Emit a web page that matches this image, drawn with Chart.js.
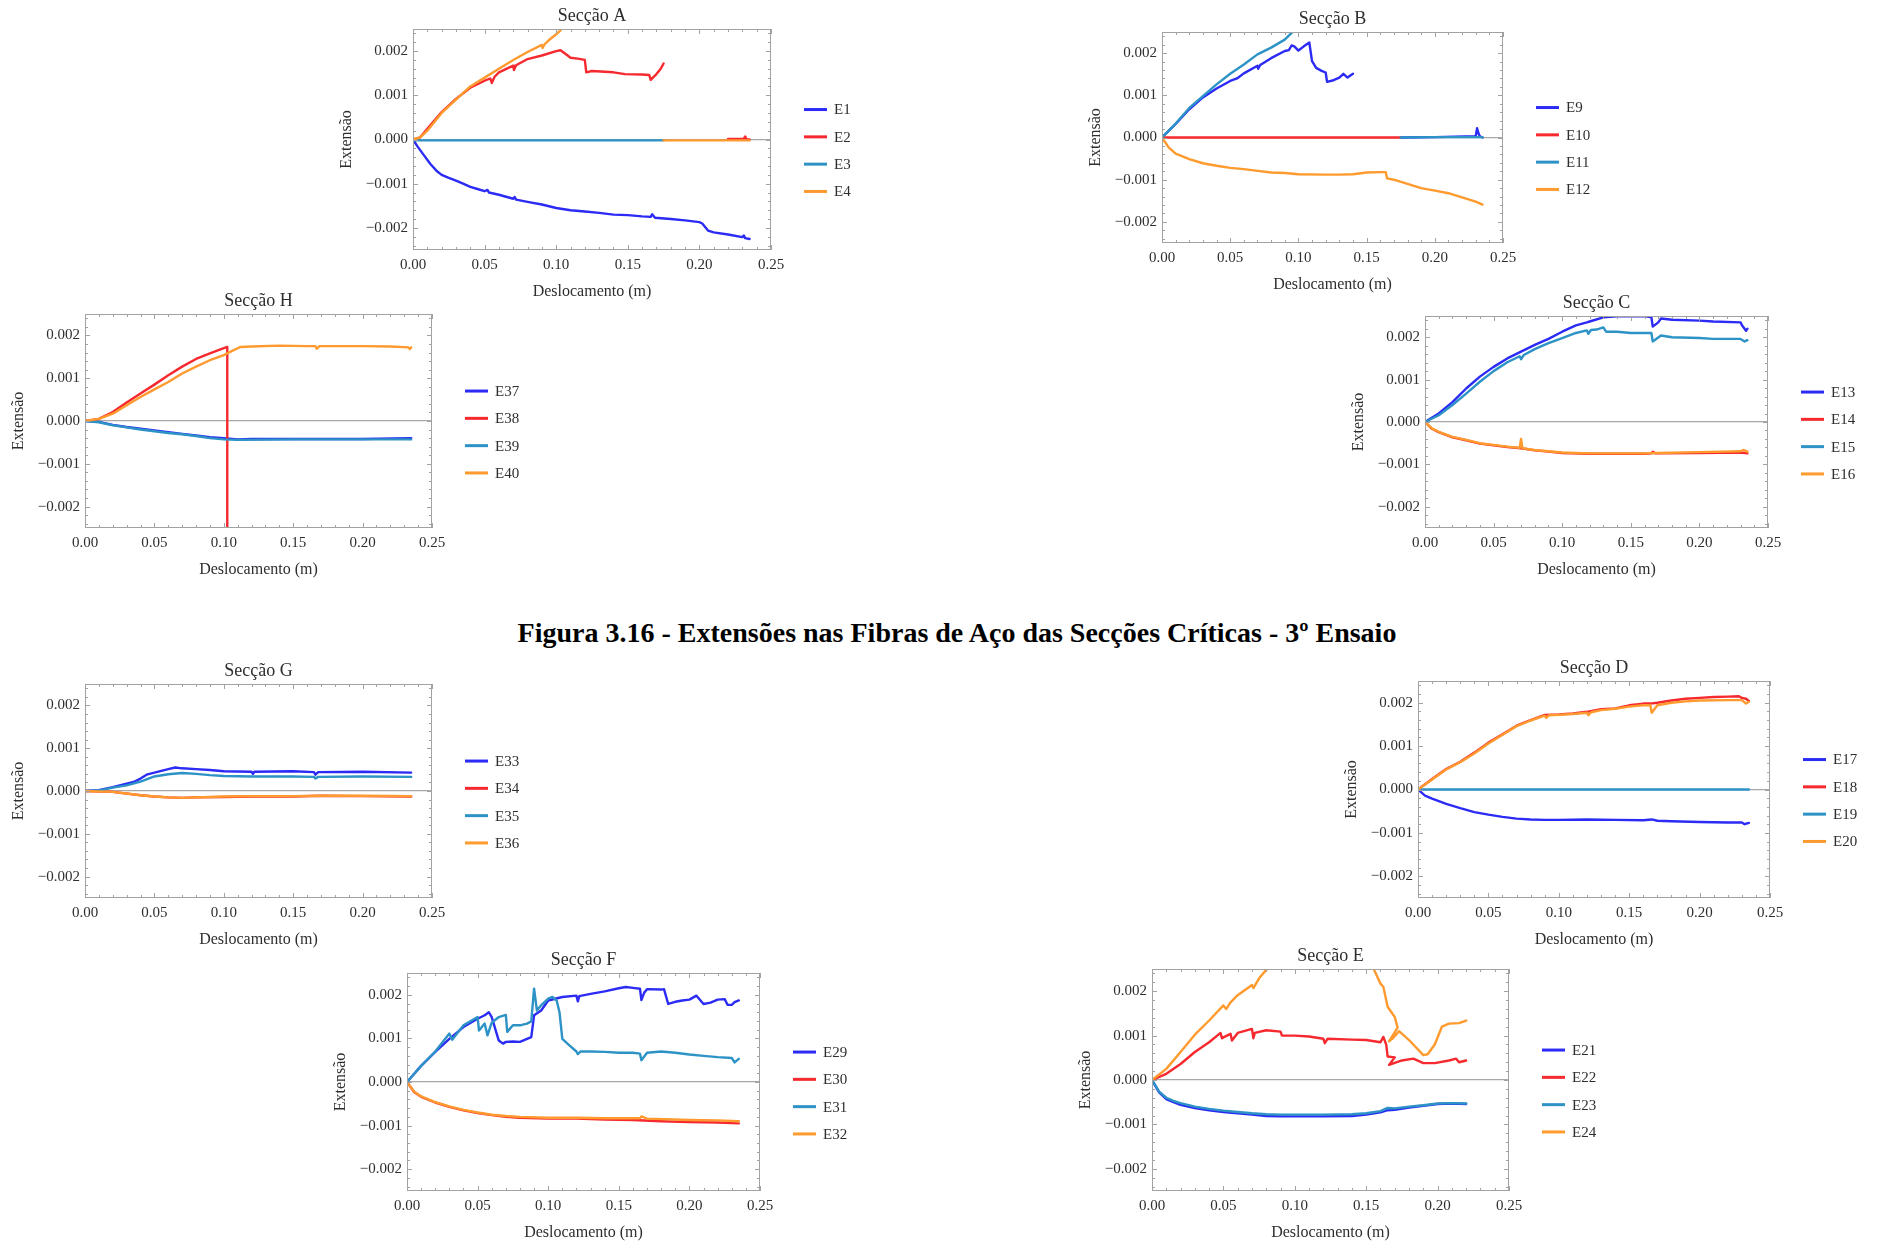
<!DOCTYPE html>
<html><head><meta charset="utf-8">
<script src="https://cdn.jsdelivr.net/npm/chart.js@4.4.1/dist/chart.umd.min.js"></script>
<style>
html,body{margin:0;padding:0;background:#fff;}
body{width:1879px;height:1245px;position:relative;overflow:hidden;}
canvas{position:absolute;}
#cap{position:absolute;top:617px;left:957px;transform:translateX(-50%);white-space:nowrap;font:bold 28px "Liberation Serif",serif;line-height:32px;color:#000;}
</style></head><body>
<div id="cap">Figura 3.16 - Extensões nas Fibras de Aço das Secções Críticas - 3º Ensaio</div>
<script>
// ---------- axis ticks / labels ----------
const X_TICKS=[0,0.05,0.1,0.15,0.2,0.25];
const X_TICK_LABELS=['0.00','0.05','0.10','0.15','0.20','0.25'];
const Y_TICKS=[-0.002,-0.001,0,0.001,0.002];
const Y_TICK_LABELS=['\u22120.002','\u22120.001','0.000','0.001','0.002'];
const X_TITLE='Deslocamento (m)';
const Y_TITLE='Extensão';
const COLORS=['#2b2bf5','#f5292e','#2d93c6','#ff9a2e'];

// ---------- Secção A ----------
const E1=[[0,0],[0.003,-0.00015],[0.0068,-0.00032],[0.012,-0.00055],[0.0168,-0.00072],[0.02,-0.0008],[0.025,-0.00087],[0.03,-0.00093],[0.035,-0.001],[0.04,-0.00107],[0.045,-0.00112],[0.05,-0.00117],[0.052,-0.00114],[0.053,-0.0012],[0.06,-0.00125],[0.07,-0.00134],[0.071,-0.0013],[0.072,-0.00136],[0.08,-0.00141],[0.09,-0.00147],[0.1,-0.00155],[0.11,-0.0016],[0.12,-0.00163],[0.13,-0.00166],[0.14,-0.0017],[0.15,-0.00171],[0.16,-0.00174],[0.166,-0.00175],[0.167,-0.00169],[0.169,-0.00177],[0.18,-0.0018],[0.19,-0.00183],[0.2,-0.00187],[0.202,-0.0019],[0.204,-0.00198],[0.206,-0.00206],[0.21,-0.0021],[0.22,-0.00215],[0.23,-0.00221],[0.231,-0.00217],[0.232,-0.00223],[0.235,-0.00225]];
const E2=[[0,0],[0.005,0.00005],[0.01,0.00024],[0.02,0.00062],[0.03,0.00092],[0.04,0.00117],[0.05,0.00133],[0.054,0.00138],[0.055,0.00128],[0.057,0.00142],[0.06,0.00152],[0.07,0.00167],[0.0705,0.00157],[0.072,0.00168],[0.08,0.00182],[0.09,0.0019],[0.1,0.002],[0.103,0.00202],[0.108,0.0019],[0.11,0.00185],[0.115,0.00183],[0.12,0.0018],[0.121,0.00152],[0.125,0.00155],[0.14,0.00152],[0.148,0.00148],[0.16,0.00147],[0.165,0.00146],[0.166,0.00135],[0.17,0.00148],[0.173,0.0016],[0.175,0.00172],[0.2,null],[0.22,0.00001],[0.231,0.00002],[0.232,0.00007],[0.233,0],[0.235,0]];
const E3=[[0,-0.00002],[0.05,-0.00002],[0.1,-0.00002],[0.15,-0.00002],[0.175,-0.00002]];
const E4=[[0,0],[0.005,0.00005],[0.01,0.0002],[0.02,0.0006],[0.03,0.0009],[0.04,0.0012],[0.05,0.0014],[0.06,0.0016],[0.07,0.0018],[0.08,0.00198],[0.09,0.00214],[0.0905,0.00207],[0.092,0.00216],[0.095,0.00225],[0.1,0.00238],[0.103,0.00247],[0.106,0.00258],[0.14,null],[0.175,-0.00002],[0.2,-0.00002],[0.235,-0.00002]];

// ---------- Secção B ----------
const E9=[[0,0],[0.01,0.00032],[0.02,0.00067],[0.03,0.00095],[0.04,0.00116],[0.05,0.00134],[0.055,0.0014],[0.06,0.00152],[0.07,0.0017],[0.0705,0.00163],[0.072,0.00172],[0.08,0.00188],[0.09,0.00205],[0.093,0.00207],[0.095,0.00218],[0.097,0.00216],[0.1,0.00206],[0.104,0.00216],[0.108,0.00225],[0.11,0.00181],[0.113,0.00165],[0.117,0.00158],[0.12,0.00154],[0.121,0.00132],[0.125,0.00135],[0.13,0.00142],[0.133,0.00151],[0.136,0.00142],[0.14,0.00151],[0.16,null],[0.175,0],[0.2,0.00001],[0.23,0.00003],[0.231,0.00022],[0.232,0.0001],[0.233,0.00003],[0.235,0]];
const E10=[[0,0],[0.05,0],[0.1,0],[0.175,0]];
const E11=[[0,0],[0.01,0.00033],[0.02,0.0007],[0.03,0.00098],[0.04,0.00126],[0.05,0.00151],[0.06,0.00173],[0.07,0.00197],[0.08,0.00213],[0.09,0.00232],[0.095,0.00248],[0.098,0.00258],[0.13,null],[0.175,0],[0.2,0.00001],[0.235,0.00001]];
const E12=[[0,0],[0.005,-0.00024],[0.01,-0.00038],[0.02,-0.00051],[0.03,-0.00061],[0.04,-0.00067],[0.05,-0.00072],[0.06,-0.00075],[0.07,-0.00079],[0.08,-0.00083],[0.09,-0.00084],[0.1,-0.00087],[0.12,-0.00088],[0.13,-0.00088],[0.14,-0.00087],[0.15,-0.00083],[0.16,-0.00082],[0.164,-0.00082],[0.165,-0.00097],[0.17,-0.001],[0.18,-0.0011],[0.19,-0.0012],[0.2,-0.00126],[0.21,-0.00132],[0.22,-0.00142],[0.23,-0.00152],[0.235,-0.00159]];

// ---------- Secção H ----------
const E37=[[0,0],[0.01,-0.00002],[0.02,-0.00009],[0.03,-0.00014],[0.04,-0.00018],[0.05,-0.00022],[0.06,-0.00026],[0.07,-0.0003],[0.08,-0.00034],[0.09,-0.00038],[0.1,-0.0004],[0.11,-0.00043],[0.12,-0.00042],[0.15,-0.00042],[0.18,-0.00042],[0.2,-0.00042],[0.235,-0.0004]];
const E38=[[0,0],[0.01,0.00005],[0.02,0.00021],[0.03,0.00043],[0.04,0.00064],[0.05,0.00085],[0.06,0.00107],[0.07,0.00127],[0.08,0.00145],[0.09,0.00158],[0.1,0.0017],[0.1025,0.00173],[0.1025,-0.01]];
const E39=[[0,0],[0.01,-0.00003],[0.02,-0.0001],[0.03,-0.00015],[0.04,-0.0002],[0.05,-0.00024],[0.06,-0.00028],[0.07,-0.00031],[0.08,-0.00035],[0.09,-0.0004],[0.1,-0.00043],[0.11,-0.00044],[0.15,-0.00043],[0.2,-0.00043],[0.235,-0.00043]];
const E40=[[0,0],[0.01,0.00005],[0.02,0.00017],[0.03,0.00037],[0.04,0.00056],[0.05,0.00074],[0.06,0.00091],[0.07,0.00111],[0.08,0.00127],[0.09,0.00142],[0.1,0.00154],[0.105,0.00162],[0.11,0.0017],[0.112,0.00173],[0.12,0.00174],[0.14,0.00176],[0.16,0.00175],[0.166,0.00175],[0.167,0.00169],[0.169,0.00175],[0.2,0.00175],[0.22,0.00174],[0.233,0.00172],[0.234,0.00168],[0.235,0.00172]];

// ---------- Secção C ----------
const E13=[[0,0],[0.01,0.0002],[0.02,0.00047],[0.03,0.00079],[0.04,0.00107],[0.05,0.0013],[0.06,0.0015],[0.07,0.00166],[0.08,0.00182],[0.09,0.00196],[0.1,0.00213],[0.11,0.00228],[0.118,0.00235],[0.12,0.00237],[0.13,0.00247],[0.14,0.00249],[0.15,0.00249],[0.16,0.0025],[0.165,0.00247],[0.166,0.00225],[0.17,0.00235],[0.172,0.00244],[0.18,0.00241],[0.2,0.00239],[0.21,0.00237],[0.23,0.00235],[0.231,0.00228],[0.232,0.00224],[0.234,0.00215],[0.235,0.0022]];
const E14=[[0,0],[0.005,-0.00016],[0.01,-0.00024],[0.02,-0.00036],[0.03,-0.00043],[0.04,-0.00051],[0.05,-0.00055],[0.06,-0.00059],[0.07,-0.00062],[0.08,-0.00067],[0.09,-0.0007],[0.1,-0.00073],[0.12,-0.00075],[0.14,-0.00075],[0.16,-0.00075],[0.165,-0.00074],[0.166,-0.0007],[0.168,-0.00074],[0.2,-0.00073],[0.23,-0.00072],[0.235,-0.00074]];
const E15=[[0,0],[0.01,0.00016],[0.02,0.0004],[0.03,0.00067],[0.04,0.00095],[0.05,0.0012],[0.06,0.00141],[0.069,0.00155],[0.07,0.00148],[0.072,0.00158],[0.08,0.00172],[0.09,0.00186],[0.1,0.00198],[0.11,0.0021],[0.118,0.00216],[0.119,0.00208],[0.121,0.00217],[0.125,0.00218],[0.13,0.00223],[0.132,0.00213],[0.14,0.00213],[0.15,0.0021],[0.165,0.0021],[0.166,0.0019],[0.172,0.00204],[0.18,0.002],[0.2,0.00198],[0.21,0.00196],[0.23,0.00196],[0.233,0.0019],[0.235,0.00193]];
const E16=[[0,0],[0.005,-0.00015],[0.01,-0.00023],[0.02,-0.00035],[0.03,-0.00042],[0.04,-0.0005],[0.05,-0.00054],[0.06,-0.00058],[0.069,-0.00061],[0.07,-0.0004],[0.071,-0.00062],[0.08,-0.00066],[0.09,-0.00069],[0.1,-0.00072],[0.12,-0.00074],[0.14,-0.00074],[0.16,-0.00074],[0.17,-0.00073],[0.2,-0.00071],[0.23,-0.00069],[0.232,-0.00066],[0.235,-0.0007]];

// ---------- Secção G ----------
const E33=[[0,0],[0.01,0.00002],[0.02,0.00009],[0.03,0.00017],[0.035,0.00021],[0.04,0.00029],[0.045,0.00039],[0.05,0.00043],[0.06,0.00051],[0.065,0.00055],[0.07,0.00053],[0.08,0.00051],[0.09,0.00049],[0.1,0.00046],[0.12,0.00045],[0.121,0.0004],[0.122,0.00045],[0.15,0.00046],[0.165,0.00044],[0.166,0.00038],[0.168,0.00044],[0.2,0.00045],[0.235,0.00043]];
const E34=[[0,0],[0.02,-0.00002],[0.04,-0.0001],[0.05,-0.00013],[0.06,-0.00015],[0.07,-0.00016],[0.08,-0.00015],[0.1,-0.00014],[0.12,-0.00013],[0.15,-0.00013],[0.17,-0.00011],[0.2,-0.00012],[0.235,-0.00013]];
const E35=[[0,0],[0.01,0.00001],[0.02,0.00008],[0.03,0.00013],[0.04,0.00022],[0.05,0.00034],[0.06,0.00039],[0.07,0.00042],[0.08,0.0004],[0.09,0.00037],[0.1,0.00035],[0.12,0.00034],[0.15,0.00034],[0.165,0.00033],[0.166,0.00029],[0.168,0.00033],[0.2,0.00034],[0.235,0.00033]];
const E36=[[0,0],[0.02,-0.00002],[0.04,-0.0001],[0.05,-0.00013],[0.06,-0.00015],[0.07,-0.00016],[0.08,-0.00015],[0.1,-0.00013],[0.12,-0.00012],[0.15,-0.00012],[0.17,-0.00011],[0.2,-0.00011],[0.235,-0.00012]];

// ---------- Secção D ----------
const E17=[[0,0],[0.005,-0.00014],[0.01,-0.00021],[0.02,-0.00033],[0.03,-0.00043],[0.04,-0.00052],[0.05,-0.00058],[0.06,-0.00063],[0.07,-0.00067],[0.08,-0.00069],[0.09,-0.0007],[0.1,-0.0007],[0.12,-0.00069],[0.14,-0.0007],[0.16,-0.00071],[0.166,-0.00069],[0.17,-0.00072],[0.18,-0.00073],[0.2,-0.00075],[0.22,-0.00076],[0.23,-0.00076],[0.232,-0.0008],[0.235,-0.00077]];
const E18=[[0,0],[0.01,0.00024],[0.02,0.00047],[0.03,0.00064],[0.04,0.00085],[0.05,0.00108],[0.06,0.00127],[0.07,0.00147],[0.08,0.0016],[0.09,0.00172],[0.1,0.00173],[0.11,0.00175],[0.12,0.00179],[0.13,0.00185],[0.14,0.00187],[0.15,0.00194],[0.16,0.00198],[0.165,0.00198],[0.17,0.002],[0.18,0.00205],[0.19,0.00209],[0.2,0.00211],[0.21,0.00213],[0.22,0.00214],[0.228,0.00215],[0.23,0.00211],[0.233,0.00209],[0.235,0.00204]];
const E19=[[0,0],[0.05,0],[0.1,0],[0.15,0],[0.2,0],[0.235,0]];
const E20=[[0,0],[0.01,0.00023],[0.02,0.00046],[0.03,0.00063],[0.04,0.00083],[0.05,0.00106],[0.06,0.00126],[0.07,0.00146],[0.08,0.00159],[0.09,0.0017],[0.091,0.00165],[0.093,0.00171],[0.1,0.00172],[0.11,0.00174],[0.12,0.00177],[0.121,0.00171],[0.123,0.00178],[0.13,0.00183],[0.14,0.00186],[0.15,0.00191],[0.16,0.00194],[0.165,0.00194],[0.166,0.00177],[0.17,0.00194],[0.18,0.002],[0.19,0.00203],[0.2,0.00205],[0.22,0.00206],[0.23,0.00206],[0.233,0.00198],[0.235,0.00202]];

// ---------- Secção F ----------
const E29=[[0,0],[0.01,0.00037],[0.02,0.00069],[0.03,0.00099],[0.04,0.00126],[0.05,0.00145],[0.055,0.00153],[0.058,0.0016],[0.06,0.00149],[0.065,0.00095],[0.068,0.00088],[0.07,0.00092],[0.075,0.00093],[0.08,0.00092],[0.088,0.00103],[0.09,0.00153],[0.095,0.00164],[0.1,0.00187],[0.11,0.00195],[0.12,0.00198],[0.121,0.00185],[0.122,0.00197],[0.13,0.00202],[0.14,0.00208],[0.15,0.00215],[0.155,0.00218],[0.16,0.00216],[0.165,0.00214],[0.166,0.00188],[0.168,0.00205],[0.17,0.00213],[0.18,0.00212],[0.182,0.00213],[0.185,0.00179],[0.19,0.00184],[0.195,0.00187],[0.2,0.00189],[0.205,0.00198],[0.21,0.00179],[0.215,0.00182],[0.22,0.00189],[0.225,0.0019],[0.227,0.00177],[0.23,0.00177],[0.232,0.00183],[0.235,0.00187]];
const E30=[[0,0],[0.005,-0.00023],[0.01,-0.00034],[0.02,-0.00047],[0.03,-0.00057],[0.04,-0.00065],[0.05,-0.00071],[0.06,-0.00076],[0.07,-0.0008],[0.08,-0.00082],[0.1,-0.00084],[0.12,-0.00084],[0.14,-0.00086],[0.16,-0.00087],[0.18,-0.0009],[0.2,-0.00092],[0.22,-0.00093],[0.235,-0.00095]];
const E31=[[0,0],[0.01,0.00037],[0.02,0.0007],[0.03,0.00111],[0.032,0.00097],[0.04,0.0013],[0.05,0.00149],[0.051,0.00118],[0.055,0.00134],[0.057,0.00107],[0.06,0.00136],[0.065,0.00149],[0.07,0.00154],[0.071,0.00115],[0.075,0.0013],[0.08,0.0013],[0.085,0.00134],[0.088,0.00139],[0.09,0.00214],[0.092,0.00164],[0.095,0.00176],[0.1,0.00191],[0.103,0.00195],[0.106,0.00187],[0.108,0.0016],[0.11,0.00099],[0.115,0.00084],[0.12,0.0007],[0.121,0.00064],[0.123,0.0007],[0.13,0.0007],[0.14,0.00069],[0.15,0.00067],[0.16,0.00067],[0.165,0.00065],[0.166,0.0005],[0.17,0.00067],[0.18,0.0007],[0.19,0.00067],[0.2,0.00063],[0.21,0.0006],[0.22,0.00057],[0.23,0.00055],[0.232,0.00045],[0.235,0.00053]];
const E32=[[0,0],[0.005,-0.00022],[0.01,-0.00033],[0.02,-0.00046],[0.03,-0.00056],[0.04,-0.00064],[0.05,-0.0007],[0.06,-0.00075],[0.07,-0.00078],[0.08,-0.0008],[0.1,-0.00082],[0.12,-0.00082],[0.14,-0.00083],[0.165,-0.00083],[0.166,-0.00079],[0.17,-0.00084],[0.2,-0.00087],[0.22,-0.00088],[0.235,-0.0009]];

// ---------- Secção E ----------
const E21=[[0,0],[0.005,-0.00028],[0.01,-0.00043],[0.015,-0.0005],[0.02,-0.00056],[0.03,-0.00063],[0.04,-0.00068],[0.05,-0.00072],[0.06,-0.00075],[0.07,-0.00078],[0.08,-0.00081],[0.09,-0.00082],[0.1,-0.00082],[0.12,-0.00082],[0.14,-0.00081],[0.15,-0.00078],[0.16,-0.00073],[0.165,-0.00068],[0.17,-0.00067],[0.18,-0.00062],[0.19,-0.00058],[0.2,-0.00054],[0.21,-0.00053],[0.22,-0.00054]];
const E22=[[0,0],[0.01,0.00014],[0.02,0.00036],[0.03,0.00063],[0.04,0.00085],[0.048,0.00106],[0.049,0.00094],[0.05,0.00096],[0.055,0.00104],[0.056,0.00089],[0.06,0.00106],[0.07,0.00115],[0.071,0.00094],[0.072,0.00106],[0.08,0.00112],[0.09,0.00109],[0.091,0.001],[0.1,0.001],[0.11,0.00098],[0.12,0.00093],[0.121,0.00083],[0.123,0.00093],[0.14,0.00091],[0.15,0.0009],[0.16,0.00085],[0.162,0.00097],[0.164,0.0008],[0.165,0.00053],[0.17,0.00051],[0.166,0.00034],[0.175,0.00044],[0.183,0.00048],[0.19,0.00038],[0.198,0.00038],[0.208,0.00044],[0.213,0.00048],[0.215,0.0004],[0.22,0.00044]];
const E23=[[0,0],[0.005,-0.00026],[0.01,-0.0004],[0.015,-0.00047],[0.02,-0.00052],[0.03,-0.0006],[0.04,-0.00065],[0.05,-0.00069],[0.06,-0.00072],[0.07,-0.00075],[0.08,-0.00077],[0.09,-0.00078],[0.1,-0.00078],[0.12,-0.00078],[0.14,-0.00077],[0.15,-0.00075],[0.16,-0.0007],[0.165,-0.00063],[0.17,-0.00064],[0.18,-0.0006],[0.19,-0.00057],[0.2,-0.00053],[0.21,-0.00052],[0.22,-0.00053]];
const E24=[[0,0],[0.01,0.00025],[0.02,0.00063],[0.03,0.00102],[0.04,0.00134],[0.05,0.00168],[0.052,0.0016],[0.055,0.00175],[0.06,0.00191],[0.07,0.00214],[0.071,0.00207],[0.075,0.00229],[0.08,0.00248],[0.083,0.0026],[0.12,null],[0.154,0.0026],[0.156,0.00245],[0.16,0.00217],[0.162,0.0021],[0.165,0.00165],[0.17,0.00142],[0.172,0.00118],[0.166,0.00087],[0.169,0.00095],[0.173,0.0011],[0.18,0.0009],[0.19,0.00056],[0.193,0.00058],[0.198,0.0008],[0.203,0.0012],[0.208,0.00127],[0.215,0.00128],[0.22,0.00134]];

// ---------- panels ----------
const PANELS=[
 {title:'Secção A',names:['E1','E2','E3','E4'],series:[E1,E2,E3,E4],box:[413,29,771,250]},
 {title:'Secção B',names:['E9','E10','E11','E12'],series:[E9,E10,E11,E12],box:[1162,32,1503,243]},
 {title:'Secção H',names:['E37','E38','E39','E40'],series:[E37,E38,E39,E40],box:[85,314,432,528]},
 {title:'Secção C',names:['E13','E14','E15','E16'],series:[E13,E14,E15,E16],box:[1425,316,1768,528]},
 {title:'Secção G',names:['E33','E34','E35','E36'],series:[E33,E34,E35,E36],box:[85,684,432,898]},
 {title:'Secção D',names:['E17','E18','E19','E20'],series:[E17,E18,E19,E20],box:[1418,681,1770,898]},
 {title:'Secção F',names:['E29','E30','E31','E32'],series:[E29,E30,E31,E32],box:[407,973,760,1191]},
 {title:'Secção E',names:['E21','E22','E23','E24'],series:[E21,E22,E23,E24],box:[1152,969,1509,1191]}
];

const FONT='"Liberation Serif", "Times New Roman", serif';
const TXT='#2e2e2e';
Chart.defaults.font.family=FONT;

const framePlugin={id:'frameTicks',
 afterDatasetsDraw(chart){
  const {ctx,chartArea:a,scales}=chart; const xs=scales.x, ys=scales.y;
  ctx.save();
  ctx.strokeStyle='#a2a2a2'; ctx.lineWidth=1;
  ctx.strokeRect(a.left+0.5,a.top+0.5,a.right-a.left-1,a.bottom-a.top-1);
  ctx.beginPath();
  for(let i=0;i<=25;i++){
    const px=Math.round(xs.getPixelForValue(i/100))+0.5; const L=(i%5===0)?5:3;
    ctx.moveTo(px,a.bottom); ctx.lineTo(px,a.bottom-L);
    ctx.moveTo(px,a.top); ctx.lineTo(px,a.top+L);
  }
  for(let i=-12;i<=12;i++){
    const py=Math.round(ys.getPixelForValue(i*0.0002))+0.5; const L=(i%5===0)?5:3;
    ctx.moveTo(a.left,py); ctx.lineTo(a.left+L,py);
    ctx.moveTo(a.right,py); ctx.lineTo(a.right-L,py);
  }
  ctx.stroke();
  ctx.restore();
 }};

const legendPlugin={id:'sideLegend',
 afterDraw(chart){
  const {ctx,chartArea:a}=chart; const mid=(a.top+a.bottom)/2+11;
  ctx.save();
  chart.data.datasets.forEach((ds,i)=>{
    const yy=mid+(i-1.5)*27.3;
    ctx.strokeStyle=ds.borderColor; ctx.lineWidth=3; ctx.lineCap='butt';
    ctx.beginPath(); ctx.moveTo(a.right+33,yy); ctx.lineTo(a.right+56,yy); ctx.stroke();
    ctx.fillStyle=TXT; ctx.font='15px '+FONT; ctx.textBaseline='middle'; ctx.textAlign='left';
    ctx.fillText(ds.label,a.right+63,yy+1);
  });
  ctx.restore();
 }};

PANELS.forEach((p,k)=>{
  const [L,T,R,B]=p.box;
  const cv=document.createElement('canvas');
  const W=(R-L)+80+110, H=(B-T)+28+55;
  cv.width=W; cv.height=H;
  cv.style.left=(L-80)+'px'; cv.style.top=(T-28)+'px';
  cv.style.width=W+'px'; cv.style.height=H+'px';
  document.body.appendChild(cv);
  const datasets=p.series.map((s,i)=>({
    label:p.names[i],
    data:s.map(d=>({x:d[0],y:d[1]})),
    borderColor:COLORS[i], backgroundColor:COLORS[i],
    showLine:true, borderWidth:2.4, pointRadius:0, fill:false, spanGaps:false,
    order:3-i
  }));
  new Chart(cv,{
    type:'scatter',
    data:{datasets},
    plugins:[framePlugin,legendPlugin],
    options:{
      responsive:false, animation:false, devicePixelRatio:1,
      layout:{padding:{left:0,top:4.7,right:110,bottom:0}},
      elements:{line:{tension:0,borderJoinStyle:'round',borderCapStyle:'round'}},
      plugins:{
        legend:{display:false}, tooltip:{enabled:false},
        title:{display:true,text:p.title,fullSize:false,color:TXT,
          font:{family:FONT,size:18,weight:'normal',lineHeight:1.2},padding:{top:0,bottom:1.7}}
      },
      scales:{
        x:{type:'linear',position:'bottom',min:0,max:0.25,
          afterBuildTicks:s=>{s.ticks=X_TICKS.map(v=>({value:v}));},
          afterFit:s=>{s.height=55;},
          ticks:{callback:v=>X_TICK_LABELS[X_TICKS.indexOf(v)],color:TXT,font:{family:FONT,size:15,lineHeight:1.2},padding:6,maxRotation:0,autoSkip:false},
          grid:{display:false,drawTicks:false},border:{display:false},
          title:{display:true,text:X_TITLE,color:TXT,font:{family:FONT,size:16,lineHeight:1.2},padding:{top:0,bottom:3.4}}
        },
        y:{type:'linear',position:'left',min:-0.0025,max:0.0025,
          afterBuildTicks:s=>{s.ticks=Y_TICKS.map(v=>({value:v}));},
          afterFit:s=>{s.width=80;},
          ticks:{callback:v=>Y_TICK_LABELS[Y_TICKS.indexOf(v)],color:TXT,font:{family:FONT,size:15,lineHeight:1.2},padding:5,autoSkip:false},
          grid:{drawTicks:false,lineWidth:1.3,color:c=>(c.tick&&c.tick.value===0)?'#a8a8a8':'rgba(0,0,0,0)'},
          border:{display:false},
          title:{display:true,text:Y_TITLE,color:TXT,font:{family:FONT,size:16,lineHeight:1.2},padding:{top:4.4,bottom:0}}
        }
      }
    }
  });
});
</script></body></html>
